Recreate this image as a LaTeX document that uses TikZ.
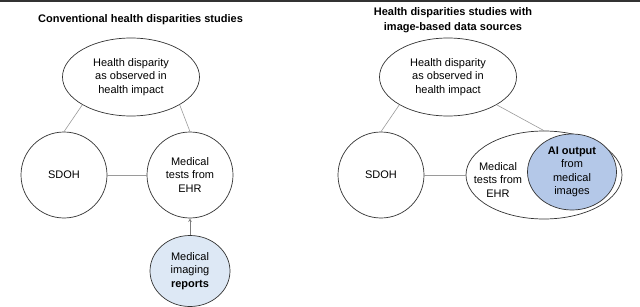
\documentclass[tikz,border=0pt]{standalone}
\usepackage{fontspec}
\setmainfont{Liberation Sans}
\usepackage{tikz}
\usetikzlibrary{shapes,arrows,positioning}
\definecolor{edgeGray}{HTML}{9A9A9A}
\definecolor{outlineGray}{HTML}{333333}
\definecolor{reportBlue}{HTML}{DDE8F5}
\definecolor{aiBlue}{HTML}{B4C8E8}

\begin{document}
\begin{tikzpicture}[
    x=1pt, y=1pt,
    align=center,
    font=\fontsize{11}{13.5}\selectfont,
    title/.style = {font=\fontsize{11}{15}\selectfont\bfseries},
    bubble/.style = {ellipse, draw=outlineGray, line width=0.7pt, inner sep=0pt, minimum width=137pt, minimum height=78pt},
    disc/.style = {circle, draw=outlineGray, line width=0.7pt, inner sep=0pt, minimum size=86pt},
    link/.style = {draw=edgeGray, line width=0.6pt},
    arrow/.style = {->, >=stealth, line width=0.6pt, draw=edgeGray!80!black}
]
    \useasboundingbox (0,0) rectangle (640,306);
    \fill [outlineGray] (0,303.5) rectangle (640,306);

    % Conventional studies
    \node [title] (convTitle) at (140.5,286) {Conventional health disparities studies};
    \node [bubble] (health) at (131,229) {Health disparity\\as observed in\\health impact};
    \node [disc] (sdoh) at (64,131) {SDOH};
    \node [disc] (tests) at (190,131) {Medical\\tests from\\EHR};
    \node [bubble, fill=reportBlue, minimum width=80pt, minimum height=71pt] (reports) at (190,35) {Medical\\imaging\\\textbf{reports}};

    \draw [link] (health.south west) -- (sdoh.north);
    \draw [link] (health.south east) -- (tests.north);
    \draw [link] (sdoh) -- (tests);
    \draw [arrow] (reports) -- (tests);

    % Image-based studies
    \node [title] (imgTitle) at (453,285.5) {Health disparities studies with\\image-based data sources};
    \node [bubble] (health2) at (448,229) {Health disparity\\as observed in\\health impact};
    \node [disc] (sdoh2) at (381,131) {SDOH};
    \node [bubble, minimum width=156pt, minimum height=88pt] (tests2) at (544,131) {};
    \node [inner sep=0pt] (tests2txt) at (498,126) {Medical\\tests from\\EHR};
    \node [bubble, fill=aiBlue, minimum width=89pt, minimum height=76pt] (ai) at (572,134) {\textbf{AI output}\\from\\medical\\images};

    \draw [link] (health2.south west) -- (sdoh2.north);
    \draw [link] (health2.south east) -- (tests2.north);
    \draw [link] (sdoh2) -- (tests2);
\end{tikzpicture}
\end{document}
